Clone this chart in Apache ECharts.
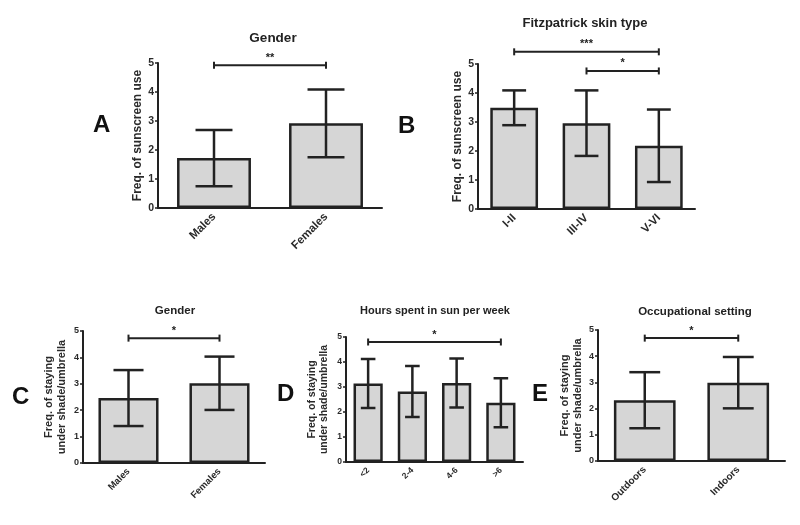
<!DOCTYPE html>
<html><head><meta charset="utf-8">
<script src="https://cdn.jsdelivr.net/npm/echarts@6/dist/echarts.min.js"></script>
<style>html,body{margin:0;padding:0;background:#fff}#c{width:800px;height:525px}</style>
</head><body><div id="c"></div>
<script>
// ---- data ----
const catsA = ['Males', 'Females'];
const meanA = [1.72, 2.92];
const sdA = [0.97, 1.17];
const sigA = [[0, 1, 4.92, '**']];

const catsB = ['I-II', 'III-IV', 'V-VI'];
const meanB = [3.49, 2.96, 2.18];
const sdB = [0.60, 1.13, 1.25];
const sigB = [[0, 2, 5.42, '***'], [1, 2, 4.76, '*']];

const catsC = ['Males', 'Females'];
const meanC = [2.46, 3.02];
const sdC = [1.06, 1.01];
const sigC = [[0, 1, 4.73, '*']];

const catsD = ['<2', '2-4', '4-6', '>6'];
const meanD = [3.14, 2.82, 3.16, 2.37];
const sdD = [0.98, 1.02, 0.98, 0.98];
const sigD = [[0, 3, 4.80, '*']];

const catsE = ['Outdoors', 'Indoors'];
const meanE = [2.32, 2.99];
const sdE = [1.07, 0.98];
const sigE = [[0, 1, 4.69, '*']];

const yMin = 0, yMax = 5, yStep = 1;

const titlesTxt = ['Gender', 'Fitzpatrick skin type', 'Gender', 'Hours spent in sun per week', 'Occupational setting'];
const yNames = ['Freq. of sunscreen use', 'Freq. of sunscreen use',
  'Freq. of staying\nunder shade/umbrella', 'Freq. of staying\nunder shade/umbrella', 'Freq. of staying\nunder shade/umbrella'];
const letters = ['A', 'B', 'C', 'D', 'E'];

// ---- layout ----
const FONT = '"Liberation Sans", Arial, sans-serif';
const INK = '#222';
const panels = [
  {cats: catsA, mean: meanA, sd: sdA, sig: sigA, grid: {left: 158, top: 63, width: 224, height: 145}, title: [268, 26, 13.5], nameGap: 13, nameSize: 12, lblSize: 11.5, tickSize: 10.5, letter: [103, 126]},
  {cats: catsB, mean: meanB, sd: sdB, sig: sigB, grid: {left: 478, top: 64, width: 217, height: 145}, title: [580, 12, 13], nameGap: 13, nameSize: 12, lblSize: 11.5, tickSize: 10.5, letter: [408, 127]},
  {cats: catsC, mean: meanC, sd: sdC, sig: sigC, grid: {left: 83, top: 331, width: 182, height: 132}, title: [170, 300, 11.5], nameGap: 15, nameSize: 11, lblSize: 9.5, tickSize: 9, letter: [22, 398]},
  {cats: catsD, mean: meanD, sd: sdD, sig: sigD, grid: {left: 346, top: 337, width: 177, height: 125}, title: [430, 300, 11], nameGap: 16, nameSize: 10.5, lblSize: 8.5, tickSize: 8.5, letter: [287, 395]},
  {cats: catsE, mean: meanE, sd: sdE, sig: sigE, grid: {left: 598, top: 330, width: 187, height: 131}, title: [690, 301, 11.5], nameGap: 14, nameSize: 11, lblSize: 10, tickSize: 9, letter: [542, 395]}
];

function errItem(params, api) {
  const x = api.value(0), m = api.value(1), s = api.value(2);
  const top = api.coord([x, m + s]);
  const bot = api.coord([x, m - s]);
  const hw = api.size([1, 0])[0] * 0.165;
  const st = {stroke: INK, lineWidth: 2.5};
  return {type: 'group', children: [
    {type: 'line', shape: {x1: top[0], y1: top[1], x2: bot[0], y2: bot[1]}, style: st},
    {type: 'line', shape: {x1: top[0] - hw, y1: top[1], x2: top[0] + hw, y2: top[1]}, style: st},
    {type: 'line', shape: {x1: bot[0] - hw, y1: bot[1], x2: bot[0] + hw, y2: bot[1]}, style: st}
  ]};
}
function sigItem(params, api) {
  const a = api.coord([api.value(0), api.value(2)]);
  const b = api.coord([api.value(1), api.value(2)]);
  const st = {stroke: INK, lineWidth: 2};
  return {type: 'group', children: [
    {type: 'line', shape: {x1: a[0], y1: a[1], x2: b[0], y2: b[1]}, style: st},
    {type: 'line', shape: {x1: a[0], y1: a[1] - 3.5, x2: a[0], y2: a[1] + 3.5}, style: st},
    {type: 'line', shape: {x1: b[0], y1: b[1] - 3.5, x2: b[0], y2: b[1] + 3.5}, style: st},
    {type: 'text', style: {x: (a[0] + b[0]) / 2, y: a[1] - 2, text: api.value(3), fill: INK,
      font: 'bold 11px ' + FONT, textAlign: 'center', textVerticalAlign: 'bottom'}}
  ]};
}

const option = {
  animation: false,
  backgroundColor: '#fff',
  title: [], grid: [], xAxis: [], yAxis: [], series: [],
  graphic: []
};
panels.forEach((p, i) => {
  option.title.push({text: titlesTxt[i], left: p.title[0], top: p.title[1], textAlign: 'center',
    textStyle: {fontFamily: FONT, fontWeight: 'bold', fontSize: p.title[2], color: INK}});
  option.grid.push(Object.assign({containLabel: false}, p.grid));
  option.xAxis.push({type: 'category', gridIndex: i, data: p.cats,
    axisLine: {lineStyle: {color: INK, width: 2}},
    axisTick: {alignWithLabel: true, length: 5, lineStyle: {color: INK, width: 2}},
    axisLabel: {rotate: 45, fontFamily: FONT, fontWeight: 'bold', fontSize: p.lblSize, color: '#2a2a2a', margin: 7, interval: 0}
  });
  option.yAxis.push({type: 'value', gridIndex: i, min: yMin, max: yMax, interval: yStep,
    name: yNames[i], nameLocation: 'middle', nameGap: p.nameGap, nameRotate: 90,
    nameTextStyle: {fontFamily: FONT, fontWeight: 'bold', fontSize: p.nameSize, color: '#2a2a2a', lineHeight: p.nameSize * 1.15},
    axisLine: {show: true, lineStyle: {color: INK, width: 2}},
    axisTick: {show: true, length: 3, lineStyle: {color: INK, width: 1.5}},
    splitLine: {show: false},
    axisLabel: {fontFamily: FONT, fontWeight: 'bold', fontSize: p.tickSize, color: '#2a2a2a', margin: 4}
  });
  option.series.push({type: 'bar', xAxisIndex: i, yAxisIndex: i, data: p.mean, barWidth: '66%',
    itemStyle: {color: '#d6d6d6', borderColor: INK, borderWidth: 2.5}, z: 2});
  option.series.push({type: 'custom', xAxisIndex: i, yAxisIndex: i, renderItem: errItem,
    data: p.mean.map((m, k) => [k, m, p.sd[k]]), encode: {x: 0, y: [1, 2]}, z: 3, clip: false});
  option.series.push({type: 'custom', xAxisIndex: i, yAxisIndex: i, renderItem: sigItem,
    data: p.sig, encode: {x: [0, 1], y: 2}, z: 3, clip: false});
  option.graphic.push({type: 'text', left: p.letter[0] - 10, top: p.letter[1] - 13,
    style: {text: letters[i], font: 'bold 24px ' + FONT, fill: '#111'}});
});

const chart = echarts.init(document.getElementById('c'), null, {renderer: 'canvas'});
chart.setOption(option);
</script>
</body></html>
